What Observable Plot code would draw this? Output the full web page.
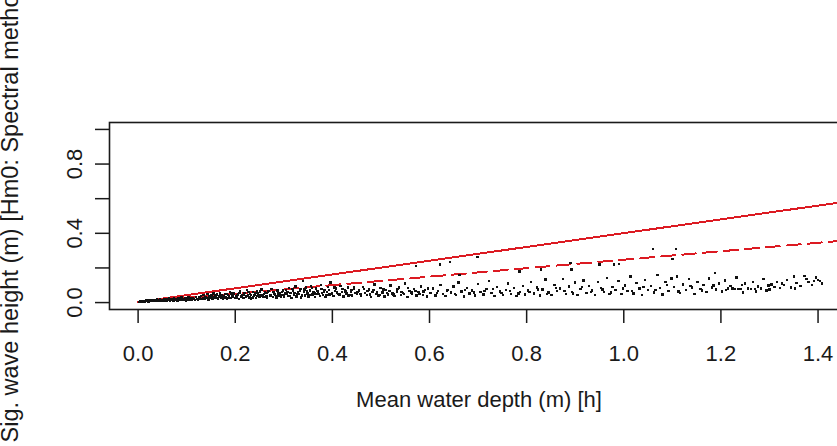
<!DOCTYPE html>
<html>
<head>
<meta charset="utf-8">
<script src="https://cdn.jsdelivr.net/npm/d3@7"></script>
<script src="https://cdn.jsdelivr.net/npm/@observablehq/plot@0.6"></script>
<style>
  html, body { margin: 0; padding: 0; background: #fff; overflow: hidden; }
  #chart svg { overflow: hidden; display: block; }
</style>
</head>
<body>
<div id="chart"></div>
<script>
// ---- data ----
const xTitle = "Mean water depth (m) [h]";
const yTitle = "Sig. wave height (m) [Hm0: Spectral method]";
const xTicks = [0, 0.2, 0.4, 0.6, 0.8, 1.0, 1.2, 1.4];
const yTicks = [0, 0.2, 0.4, 0.6, 0.8, 1.0];
const yLabelTicks = [0, 0.4, 0.8];

// reference lines (two end points each)
const lineDepth = [0, 1.46];
const solidHm0 = [0.003, 0.584];
const dashedHm0 = [0.003, 0.36];

// scatter: [mean water depth, Hm0]
const scatterPoints = [
[0.002,0.004],[0.004,0.006],[0.006,0.005],[0.008,0.008],[0.010,0.006],[0.011,0.010],[0.013,0.007],[0.015,0.009],[0.016,0.012],[0.018,0.008],[0.020,0.011],[0.021,0.006],[0.023,0.013],[0.024,0.009],[0.026,0.012],[0.027,0.015],[0.029,0.010],[0.030,0.013],[0.032,0.008],[0.033,0.016],[0.035,0.011],[0.036,0.014],[0.038,0.009],[0.039,0.017],[0.041,0.012],[0.042,0.015],[0.044,0.010],[0.045,0.018],[0.047,0.013],[0.048,0.016],[0.049,0.011],
[0.051,0.014],[0.053,0.019],[0.054,0.010],[0.056,0.016],[0.058,0.021],[0.059,0.012],[0.061,0.018],[0.063,0.015],[0.064,0.024],[0.066,0.011],[0.068,0.019],[0.069,0.016],[0.071,0.022],[0.073,0.013],[0.074,0.027],[0.076,0.018],[0.078,0.015],[0.079,0.021],[0.081,0.012],[0.083,0.025],[0.084,0.017],[0.086,0.020],[0.088,0.014],[0.089,0.029],[0.091,0.018],[0.093,0.022],[0.094,0.015],[0.096,0.026],[0.098,0.019],[0.099,0.013],[0.101,0.023],[0.103,0.017],[0.104,0.031],[0.106,0.020],[0.108,0.015],[0.109,0.025],[0.111,0.018],[0.113,0.028],[0.115,0.021],[0.117,0.014],[0.119,0.033],
[0.121,0.022],[0.123,0.017],[0.125,0.030],[0.127,0.024],[0.129,0.038],[0.131,0.019],[0.133,0.027],[0.135,0.044],[0.137,0.021],[0.139,0.033],[0.141,0.026],[0.143,0.048],[0.145,0.018],[0.147,0.036],[0.149,0.029],[0.151,0.041],[0.153,0.023],[0.155,0.052],[0.157,0.031],[0.159,0.025],[0.161,0.039],[0.163,0.046],[0.165,0.020],[0.167,0.034],[0.169,0.057],[0.171,0.028],[0.173,0.043],[0.175,0.024],[0.177,0.037],[0.179,0.050],[0.181,0.030],[0.183,0.022],[0.185,0.045],[0.187,0.035],[0.189,0.061],[0.191,0.027],[0.193,0.040],[0.195,0.032],[0.197,0.053],[0.199,0.025],
[0.201,0.038],[0.203,0.029],[0.206,0.047],[0.208,0.021],[0.210,0.064],[0.212,0.035],[0.215,0.042],[0.217,0.026],[0.219,0.055],[0.222,0.033],[0.224,0.071],[0.226,0.040],[0.229,0.030],[0.231,0.049],[0.233,0.023],[0.236,0.060],[0.238,0.037],[0.240,0.045],[0.243,0.028],[0.245,0.066],[0.247,0.052],[0.250,0.034],[0.252,0.041],[0.254,0.075],[0.257,0.031],[0.259,0.048],[0.261,0.058],[0.264,0.036],[0.266,0.027],[0.268,0.063],[0.271,0.044],[0.273,0.039],[0.275,0.078],[0.278,0.033],[0.280,0.051],[0.282,0.046],[0.285,0.029],[0.287,0.069],[0.289,0.040],[0.292,0.057],[0.294,0.035],[0.296,0.062],[0.299,0.043],
[0.301,0.031],[0.304,0.072],[0.306,0.049],[0.309,0.038],[0.311,0.085],[0.314,0.054],[0.316,0.027],[0.319,0.066],[0.321,0.044],[0.324,0.093],[0.326,0.035],[0.329,0.059],[0.331,0.048],[0.334,0.078],[0.336,0.030],[0.339,0.126],[0.341,0.062],[0.344,0.041],[0.346,0.087],[0.349,0.053],[0.351,0.036],[0.354,0.070],[0.356,0.097],[0.359,0.046],[0.361,0.058],[0.364,0.033],[0.366,0.081],[0.369,0.050],[0.371,0.064],[0.374,0.039],[0.376,0.102],[0.379,0.055],[0.381,0.044],[0.384,0.074],[0.386,0.031],[0.389,0.061],[0.391,0.089],[0.394,0.047],[0.396,0.117],[0.399,0.056],[0.402,0.038],[0.405,0.068],[0.408,0.082],[0.411,0.050],[0.414,0.043],[0.417,0.095],[0.420,0.060],[0.423,0.035],[0.426,0.073],[0.429,0.052],[0.432,0.086],[0.435,0.045],[0.438,0.065],[0.441,0.040],[0.444,0.078],[0.447,0.057],
[0.451,0.048],[0.455,0.069],[0.459,0.037],[0.463,0.090],[0.467,0.055],[0.471,0.044],[0.475,0.076],[0.479,0.032],[0.483,0.061],[0.487,0.105],[0.491,0.050],[0.495,0.040],[0.499,0.083],[0.503,0.058],[0.507,0.035],[0.511,0.071],[0.515,0.046],[0.520,0.098],[0.524,0.053],[0.528,0.038],[0.533,0.064],[0.537,0.087],[0.541,0.043],[0.546,0.057],[0.550,0.110],[0.555,0.033],[0.559,0.067],[0.564,0.049],[0.568,0.079],[0.573,0.040],[0.577,0.060],[0.582,0.092],[0.586,0.045],[0.591,0.072],[0.595,0.036],[0.572,0.210],
[0.602,0.054],[0.607,0.081],[0.612,0.041],[0.617,0.066],[0.621,0.220],[0.623,0.101],[0.628,0.048],[0.633,0.038],[0.638,0.074],[0.642,0.235],[0.644,0.058],[0.649,0.093],[0.655,0.044],[0.660,0.115],[0.662,0.160],[0.666,0.063],[0.671,0.034],[0.677,0.085],[0.682,0.052],[0.688,0.069],[0.694,0.040],[0.699,0.262],[0.700,0.106],[0.705,0.060],[0.711,0.047],[0.717,0.078],[0.722,0.125],[0.728,0.055],[0.734,0.037],[0.739,0.090],[0.745,0.065],[0.751,0.043],[0.757,0.072],[0.762,0.110],[0.768,0.050],[0.774,0.083],[0.779,0.039],[0.785,0.180],[0.786,0.061],[0.792,0.097],[0.797,0.046],
[0.803,0.070],[0.809,0.120],[0.815,0.053],[0.821,0.088],[0.827,0.040],[0.830,0.190],[0.833,0.075],[0.839,0.133],[0.845,0.058],[0.851,0.044],[0.857,0.102],[0.863,0.066],[0.869,0.081],[0.875,0.137],[0.881,0.049],[0.887,0.093],[0.890,0.230],[0.892,0.190],[0.893,0.062],[0.899,0.115],[0.905,0.042],[0.911,0.078],[0.917,0.128],[0.923,0.055],[0.929,0.096],[0.935,0.070],[0.941,0.045],[0.947,0.118],[0.950,0.220],[0.953,0.084],[0.959,0.060],[0.965,0.142],[0.971,0.051],[0.977,0.090],[0.980,0.220],[0.983,0.073],[0.989,0.125],[0.990,0.222],[0.995,0.048],
[1.002,0.098],[1.008,0.067],[1.014,0.150],[1.020,0.052],[1.026,0.112],[1.032,0.082],[1.038,0.043],[1.044,0.130],[1.050,0.071],[1.056,0.095],[1.060,0.310],[1.062,0.058],[1.068,0.160],[1.070,0.160],[1.074,0.084],[1.080,0.047],[1.086,0.120],[1.092,0.066],[1.098,0.140],[1.100,0.250],[1.104,0.090],[1.108,0.310],[1.110,0.150],[1.116,0.055],[1.122,0.105],[1.128,0.074],[1.134,0.135],[1.140,0.088],[1.146,0.048],[1.152,0.118],[1.158,0.079],[1.164,0.100],[1.170,0.062],[1.176,0.140],[1.182,0.086],[1.188,0.170],[1.190,0.075],[1.196,0.110],
[1.202,0.065],[1.208,0.128],[1.214,0.082],[1.220,0.095],[1.224,0.081],[1.228,0.080],[1.232,0.145],[1.236,0.079],[1.240,0.080],[1.246,0.058],[1.250,0.110],[1.256,0.081],[1.262,0.079],[1.266,0.120],[1.270,0.080],[1.276,0.093],[1.282,0.082],[1.288,0.135],[1.294,0.070],[1.300,0.075],[1.304,0.105],[1.310,0.090],[1.316,0.120],[1.322,0.083],[1.330,0.100],[1.336,0.130],[1.344,0.088],[1.350,0.150],[1.356,0.112],[1.364,0.095],[1.372,0.155],[1.380,0.118],[1.388,0.102],[1.396,0.145],[1.400,0.130],[1.404,0.125],[1.408,0.110],
[0.152,0.034],[0.158,0.045],[0.162,0.027],[0.168,0.041],[0.172,0.036],[0.178,0.029],[0.182,0.048],[0.186,0.026],[0.192,0.052],[0.196,0.038],[0.204,0.044],[0.209,0.056],[0.214,0.031],[0.218,0.047],[0.223,0.039],[0.227,0.062],[0.232,0.043],[0.237,0.030],[0.242,0.056],[0.246,0.038],[0.251,0.063],[0.256,0.045],[0.260,0.032],[0.265,0.054],[0.270,0.068],[0.274,0.041],[0.279,0.060],[0.284,0.037],[0.288,0.052],[0.293,0.045],[0.298,0.070],[0.303,0.052],[0.308,0.061],[0.313,0.039],[0.318,0.080],[0.322,0.055],[0.327,0.047],[0.333,0.068],[0.338,0.041],[0.343,0.075],[0.348,0.063],[0.353,0.045],[0.358,0.085],[0.363,0.052],[0.368,0.067],[0.373,0.048],[0.378,0.079],[0.383,0.060],[0.388,0.042],[0.393,0.072],[0.398,0.050],[0.404,0.088],[0.409,0.058],[0.415,0.047],[0.421,0.078],[0.427,0.063],[0.433,0.040],[0.439,0.071],[0.445,0.090],[0.452,0.062],[0.458,0.051],[0.465,0.080],[0.472,0.066],[0.478,0.046],[0.485,0.072],[0.492,0.060],[0.498,0.042],[0.505,0.076],[0.512,0.055],[0.518,0.066],[0.526,0.047],[0.534,0.079],[0.542,0.061],[0.548,0.050],[0.556,0.084],[0.563,0.058],[0.571,0.068],[0.579,0.049],[0.588,0.063],[0.597,0.082],
[0.615,0.055],[0.636,0.069],[0.652,0.050],[0.673,0.072],[0.692,0.058],[0.713,0.066],[0.731,0.080],[0.748,0.055],[0.766,0.068],[0.783,0.052],[0.806,0.062],[0.824,0.075],[0.842,0.048],[0.861,0.085],[0.878,0.066],[0.896,0.053],[0.914,0.090],[0.932,0.062],[0.956,0.075],[0.974,0.058],[0.998,0.082],[1.017,0.068],[1.041,0.090],[1.065,0.072],[1.089,0.101],[1.113,0.064],[1.137,0.095],[1.161,0.070],[1.185,0.098],[1.211,0.072],[1.244,0.100],[1.272,0.065],[1.298,0.098],[1.326,0.110],[1.352,0.082],[1.376,0.135],[1.392,0.125]
];

// ---- chart ----
const red = "#dc1a22";
const ink = "#1a1a1a";
const fs = 22;

const chart = Plot.plot({
  width: 837,
  height: 446,
  marginLeft: 109,
  marginRight: -11,
  marginTop: 122,
  marginBottom: 137,
  style: { fontFamily: "'Liberation Sans', Arial, sans-serif", color: ink, background: "#fff" },
  x: { domain: [-0.0589, 1.4627] },
  y: { domain: [-0.04, 1.04] },
  marks: [
    Plot.line(lineDepth, { x: d => d, y: (d, i) => solidHm0[i], stroke: red, strokeWidth: 2, shapeRendering: "crispEdges", clip: true }),
    Plot.line(lineDepth, { x: d => d, y: (d, i) => dashedHm0[i], stroke: red, strokeWidth: 2, strokeDasharray: "14,7", shapeRendering: "crispEdges", clip: true }),
    Plot.dot(scatterPoints, { x: d => d[0], y: d => d[1], r: 1.35, symbol: "square", fill: "#111", stroke: "none", shapeRendering: "crispEdges" }),
    Plot.frame({ stroke: ink, strokeWidth: 1.6 }),
    Plot.axisX({ ticks: xTicks, tickSize: 14, tickPadding: 22, tickFormat: d3.format(".1f"), fontSize: fs, label: null, stroke: ink, strokeWidth: 1.5 }),
    Plot.axisY({ ticks: yTicks, tickSize: 14, tickFormat: () => "", label: null, stroke: ink, strokeWidth: 1.5 }),
    Plot.axisY({ ticks: yLabelTicks, tickSize: 0, tickPadding: 35, tickRotate: -90, textAnchor: "middle", lineAnchor: "middle", tickFormat: d3.format(".1f"), fontSize: fs, label: null }),
    Plot.text([xTitle], { text: d => d, frameAnchor: "bottom", dy: 97, fontSize: fs, fill: ink }),
    Plot.text([yTitle], { text: d => d, frameAnchor: "bottom-left", dx: -92, dy: 133, rotate: -90, textAnchor: "start", fontSize: 23.5, fill: ink })
  ]
});
document.getElementById("chart").appendChild(chart);
</script>
</body>
</html>
